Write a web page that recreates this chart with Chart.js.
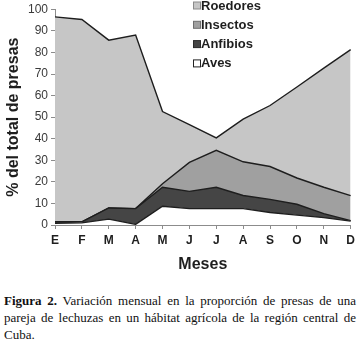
<!DOCTYPE html>
<html>
<head>
<meta charset="utf-8">
<script src="https://cdn.jsdelivr.net/npm/chart.js@4/dist/chart.umd.min.js"></script>
<style>
  body { margin: 0; background: #fff; width: 359px; height: 339px; overflow: hidden; }
  #wrap { position: absolute; left: 0; top: 0; width: 359px; height: 280px; }
  #caption { position: absolute; left: 4px; top: 292px; width: 352px;
    font-family: "Liberation Serif", "Times New Roman", serif; font-size: 13px; color: #111; line-height: 17px; }
  #caption div { text-align: justify; text-align-last: justify; white-space: nowrap; }
  #caption div.last { text-align-last: left; }
</style>
</head>
<body>
<div id="wrap"><canvas id="chart" width="359" height="280"></canvas></div>
<div id="caption">
  <div><b>Figura 2.</b> Variación mensual en la proporción de presas de una</div>
  <div>pareja de lechuzas en un hábitat agrícola de la región central de</div>
  <div class="last">Cuba.</div>
</div>
<script>
const months = ['E', 'F', 'M', 'A', 'M', 'J', 'J', 'A', 'S', 'O', 'N', 'D'];

// percentages per month (stacked bottom to top)
const aves      = [0.8, 1.0, 2.7, 0.3, 8.7, 7.6, 7.6, 7.6, 5.8, 4.6, 3.4, 1.8];
const anfibios  = [0.7, 0.5, 5.2, 7.3, 8.8, 8.0, 9.9, 6.1, 6.1, 5.0, 1.9, 0.2];
const insectos  = [0.0, 0.0, 0.0, 0.0, 1.6, 13.4, 17.1, 15.6, 15.2, 12.2, 12.2, 11.6];
const roedores  = [95.0, 93.8, 77.8, 80.5, 33.5, 17.5, 5.8, 19.8, 28.3, 42.2, 55.2, 67.7];

const yTicks = [0, 10, 20, 30, 40, 50, 60, 70, 80, 90, 100];

const FONT = 'Arial, "Liberation Sans", sans-serif';
const lineCol = '#1e1e1e';
const axisCol = '#8c8c8c';

function series(label, data, fillColor, boxBorder, fill) {
    return {
        label: label,
        data: data,
        backgroundColor: fillColor,
        borderColor: lineCol,
        borderWidth: 1.4,
        boxBorder: boxBorder,
        fill: fill,
        pointRadius: 0,
        tension: 0
    };
}

// legend drawn inside the plot, top right
const innerLegend = {
    id: 'innerLegend',
    afterDraw(chart) {
        const ctx = chart.ctx;
        const items = chart.data.datasets.slice().reverse();
        ctx.save();
        ctx.font = 'bold 13px ' + FONT;
        ctx.textBaseline = 'middle';
        items.forEach((ds, i) => {
            const y = 5.5 + i * 19.3;
            ctx.fillStyle = ds.backgroundColor;
            ctx.fillRect(193.5, y - 3.5, 7, 7);
            ctx.strokeStyle = ds.boxBorder;
            ctx.lineWidth = 1;
            ctx.strokeRect(193.5, y - 3.5, 7, 7);
            ctx.fillStyle = '#1e1e1e';
            ctx.fillText(ds.label, 201, y + 0.5);
        });
        ctx.restore();
    }
};

new Chart(document.getElementById('chart'), {
    type: 'line',
    data: {
        labels: months,
        datasets: [
            series('Aves', aves, '#ffffff', '#222222', 'origin'),
            series('Anfibios', anfibios, '#454545', '#2a2a2a', '-1'),
            series('Insectos', insectos, '#a0a0a0', '#6e6e6e', '-1'),
            series('Roedores', roedores, '#c6c6c6', '#8a8a8a', '-1')
        ]
    },
    options: {
        responsive: false,
        animation: false,
        layout: { padding: { left: 2, right: 7, top: 0, bottom: 0 } },
        plugins: {
            legend: { display: false },
            tooltip: { enabled: false }
        },
        scales: {
            x: {
                offset: false,
                grid: { drawOnChartArea: false, drawTicks: true, tickLength: 4, color: axisCol },
                border: { color: axisCol, width: 1 },
                ticks: { font: { family: FONT, size: 12, weight: 'bold' }, color: '#1e1e1e', padding: 4, maxRotation: 0, autoSkip: false },
                title: { display: true, text: 'Meses', font: { family: FONT, size: 16, weight: 'bold' }, color: '#1e1e1e', padding: { top: 4, bottom: 6 } },
                afterFit: s => { s.height = 55; }
            },
            y: {
                stacked: true,
                min: 0,
                max: 100,
                afterBuildTicks: s => { s.ticks = yTicks.map(v => ({ value: v })); },
                grid: { drawOnChartArea: false, drawTicks: true, tickLength: 4, color: axisCol },
                border: { color: axisCol, width: 1 },
                ticks: { font: { family: FONT, size: 12, lineHeight: 1.05 }, color: '#3a3a3a', padding: 3 },
                title: { display: true, text: '% del total de presas', font: { family: FONT, size: 16, weight: 'bold' }, color: '#1e1e1e', padding: { top: 2, bottom: 2 } },
                afterFit: s => { s.width = 53; }
            }
        }
    },
    plugins: [innerLegend]
});
</script>
</body>
</html>
